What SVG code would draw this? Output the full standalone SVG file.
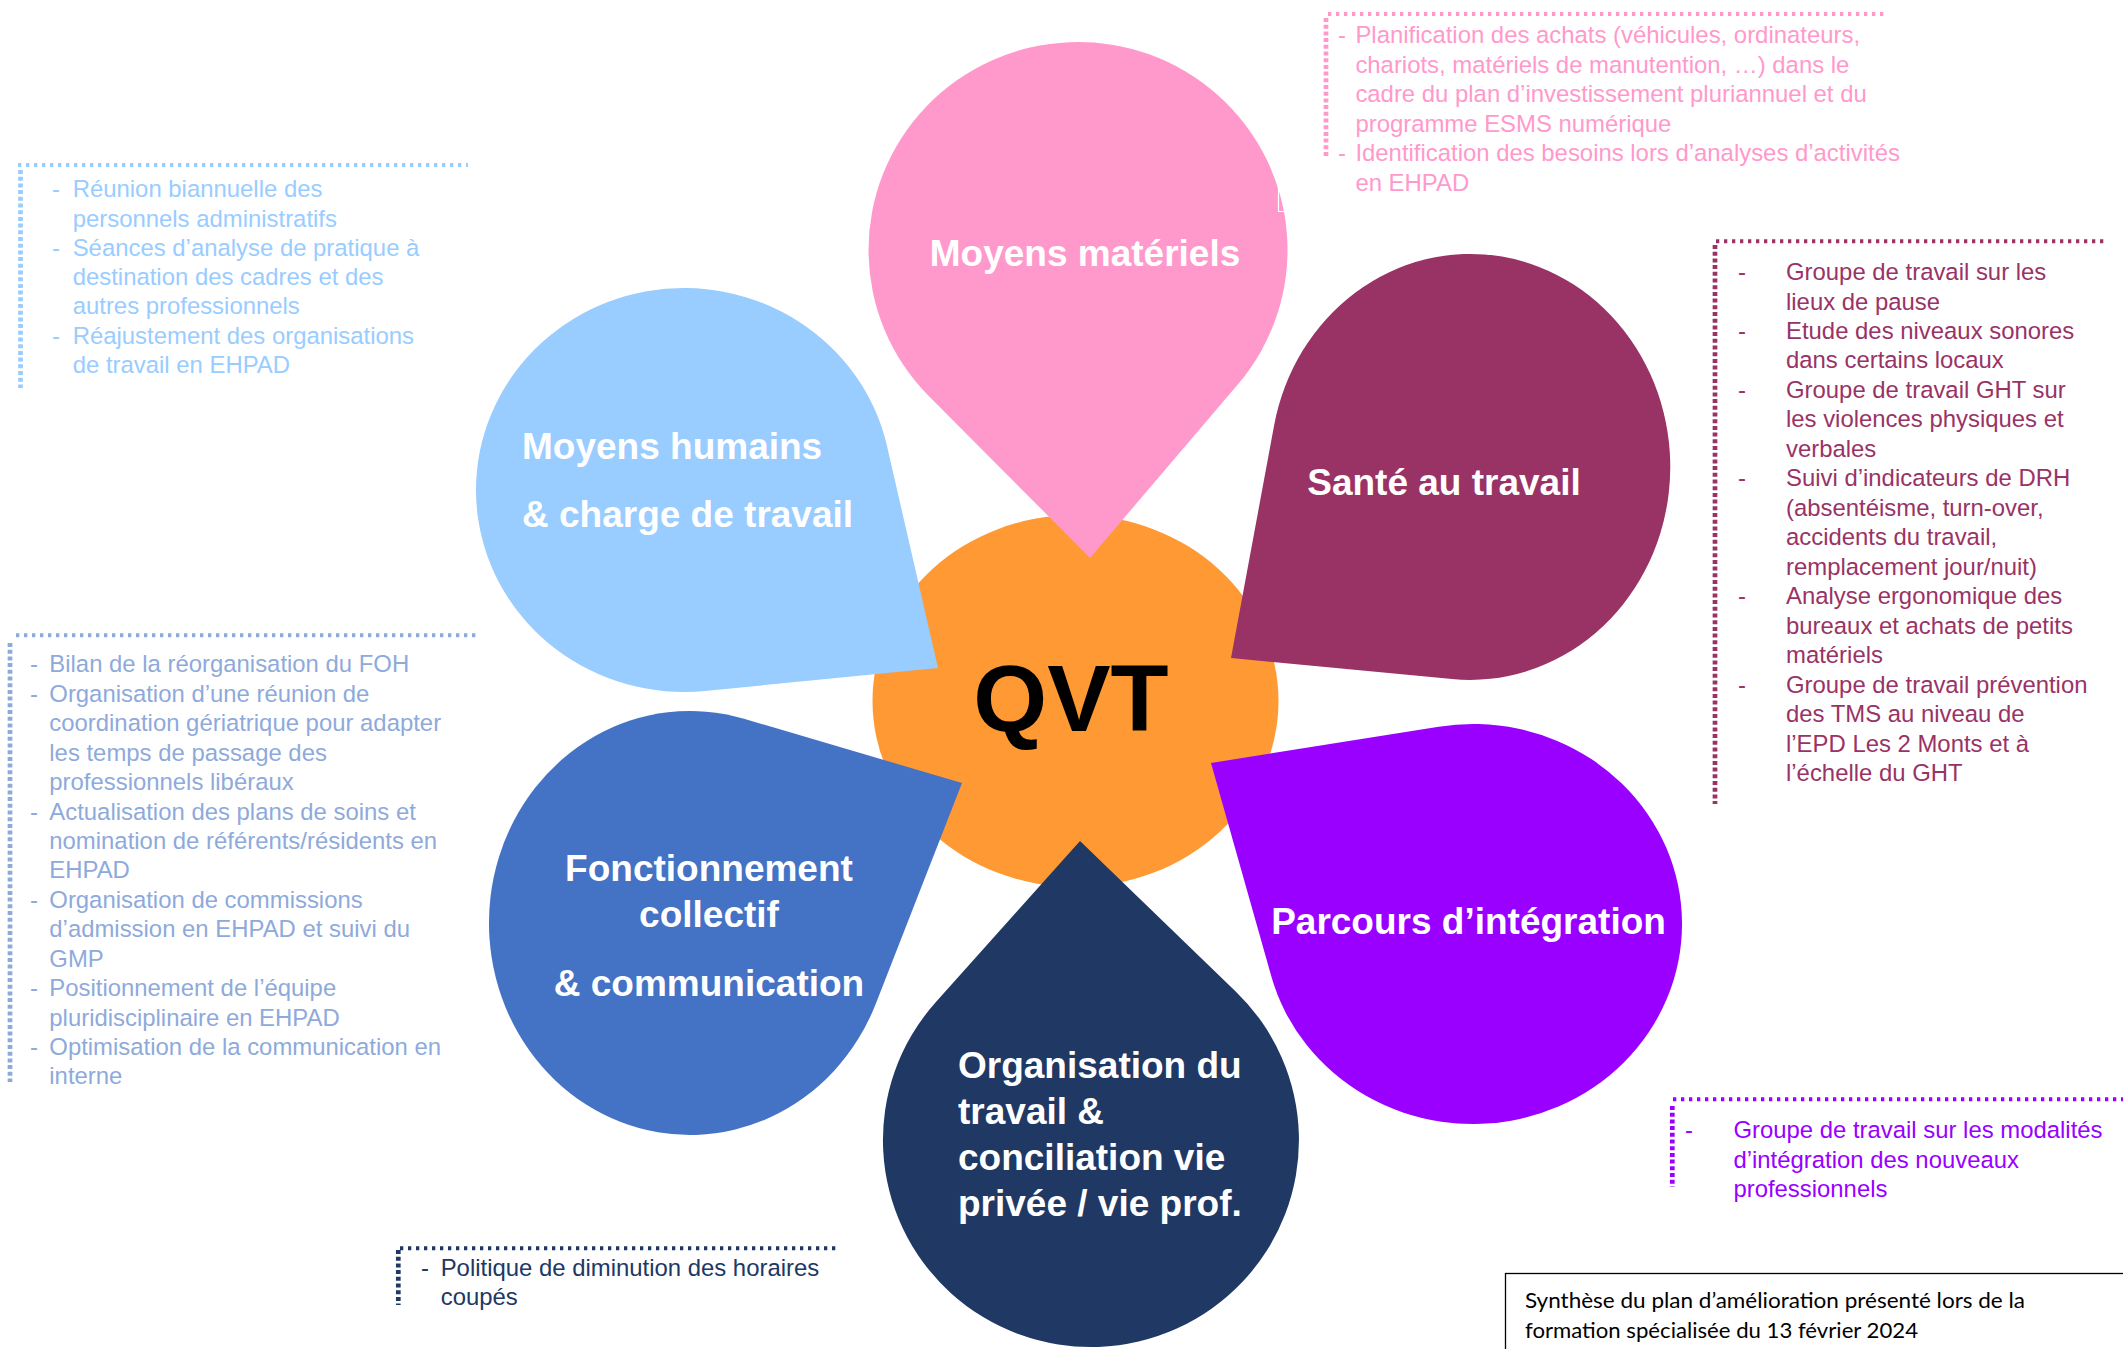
<svg xmlns="http://www.w3.org/2000/svg" width="2123" height="1349" viewBox="0 0 2123 1349">
<style>
.lbl{font-family:"Liberation Sans",Arial,sans-serif;font-weight:bold;font-size:37px;fill:#fff}
.note{font-family:"Liberation Sans",Arial,sans-serif;font-size:23.9px}
.dh{fill:none;stroke-width:4;stroke-dasharray:3.3 4.7}
.dv{fill:none;stroke-width:4.7;stroke-dasharray:4 2.7}
</style>
<rect width="2123" height="1349" fill="#fff"/>

<g id="qvt-center">
<ellipse cx="1075.5" cy="701" rx="203" ry="186" fill="#FF9933"/>
<text x="1071" y="731" text-anchor="middle" style="font-family:'Liberation Sans',Arial,sans-serif;font-weight:bold;font-size:95px" fill="#000">QVT</text>
</g>

<g id="petal-moyens-materiels">
<path d="M1238 384.3 L1090 558 L929 396.2 A209.5 208 0 1 1 1238 384.3 Z" fill="#FF99CC"/>
<path d="M1278.5 186 V211.5 H1290" fill="none" stroke="#fff" stroke-width="1.2"/>
<text class="lbl" x="1085" y="266" text-anchor="middle">Moyens matériels</text>
</g>

<g id="petal-moyens-humains">
<path d="M887 446 L938 668 L705 691 A208 202 0 1 1 887 446 Z" fill="#99CCFF"/>
<text class="lbl"><tspan x="522" y="459">Moyens humains</tspan><tspan x="522" y="527">&amp; charge de travail</tspan></text>
</g>

<g id="petal-sante">
<path d="M1452 679 L1231 658 L1274 426 A200 213 0 1 1 1452 679 Z" fill="#993366"/>
<text class="lbl" x="1444" y="495" text-anchor="middle">Santé au travail</text>
</g>

<g id="petal-parcours">
<path d="M1271.3 976.3 L1211 763 L1438.7 726.7 A209 200 0 1 1 1271.3 976.3 Z" fill="#9900FF"/>
<text class="lbl" x="1468.5" y="934" text-anchor="middle">Parcours d’intégration</text>
</g>

<g id="petal-organisation">
<path d="M935.7 1002.3 L1080 841 L1235.7 991.4 A208 207 0 1 1 935.7 1002.3 Z" fill="#203864"/>
<text class="lbl"><tspan x="958" y="1077.7">Organisation du</tspan><tspan x="958" y="1123.7">travail &amp;</tspan><tspan x="958" y="1169.7">conciliation vie</tspan><tspan x="958" y="1215.7">privée / vie prof.</tspan></text>
</g>

<g id="petal-fonctionnement">
<path d="M744 718.8 L962 783 L875.8 1003.8 A201 212 0 1 1 744 718.8 Z" fill="#4472C4"/>
<text class="lbl" text-anchor="middle"><tspan x="709" y="881">Fonctionnement</tspan><tspan x="709" y="926.5">collectif</tspan><tspan x="709" y="995.5">&amp; communication</tspan></text>
</g>

<g id="note-moyens-materiels" fill="#FF99CC" stroke="#FF99CC">
<path class="dh" d="M1328 14 H1885"/>
<path class="dv" d="M1326 18 V156"/>
<text class="note" stroke="none">
<tspan x="1338" y="43.3">-</tspan><tspan x="1355.4" y="43.3">Planification des achats (véhicules, ordinateurs,</tspan>
<tspan x="1355.4" y="72.8">chariots, matériels de manutention, …) dans le</tspan>
<tspan x="1355.4" y="102.3">cadre du plan d’investissement pluriannuel et du</tspan>
<tspan x="1355.4" y="131.7">programme ESMS numérique</tspan>
<tspan x="1338" y="161.2">-</tspan><tspan x="1355.4" y="161.2">Identification des besoins lors d’analyses d’activités</tspan>
<tspan x="1355.4" y="190.7">en EHPAD</tspan>
</text>
</g>

<g id="note-moyens-humains" fill="#99CCFF" stroke="#99CCFF">
<path class="dh" d="M18 165 H468"/>
<path class="dv" d="M20.5 170 V388"/>
<text class="note" stroke="none">
<tspan x="52" y="197.3">-</tspan><tspan x="72.7" y="197.3">Réunion biannuelle des</tspan>
<tspan x="72.7" y="226.5">personnels administratifs</tspan>
<tspan x="52" y="255.8">-</tspan><tspan x="72.7" y="255.8">Séances d’analyse de pratique à</tspan>
<tspan x="72.7" y="285">destination des cadres et des</tspan>
<tspan x="72.7" y="314.2">autres professionnels</tspan>
<tspan x="52" y="343.5">-</tspan><tspan x="72.7" y="343.5">Réajustement des organisations</tspan>
<tspan x="72.7" y="372.7">de travail en EHPAD</tspan>
</text>
</g>

<g id="note-fonctionnement" fill="#8EAADB" stroke="#8EAADB">
<path class="dh" d="M16 635.3 H479"/>
<path class="dv" d="M10 643 V1082"/>
<text class="note" stroke="none">
<tspan x="30" y="672.3">-</tspan><tspan x="49.3" y="672.3">Bilan de la réorganisation du FOH</tspan>
<tspan x="30" y="701.7">-</tspan><tspan x="49.3" y="701.7">Organisation d’une réunion de</tspan>
<tspan x="49.3" y="731.2">coordination gériatrique pour adapter</tspan>
<tspan x="49.3" y="760.6">les temps de passage des</tspan>
<tspan x="49.3" y="790">professionnels libéraux</tspan>
<tspan x="30" y="819.5">-</tspan><tspan x="49.3" y="819.5">Actualisation des plans de soins et</tspan>
<tspan x="49.3" y="848.9">nomination de référents/résidents en</tspan>
<tspan x="49.3" y="878.3">EHPAD</tspan>
<tspan x="30" y="907.7">-</tspan><tspan x="49.3" y="907.7">Organisation de commissions</tspan>
<tspan x="49.3" y="937.2">d’admission en EHPAD et suivi du</tspan>
<tspan x="49.3" y="966.6">GMP</tspan>
<tspan x="30" y="996">-</tspan><tspan x="49.3" y="996">Positionnement de l’équipe</tspan>
<tspan x="49.3" y="1025.5">pluridisciplinaire en EHPAD</tspan>
<tspan x="30" y="1054.9">-</tspan><tspan x="49.3" y="1054.9">Optimisation de la communication en</tspan>
<tspan x="49.3" y="1084.3">interne</tspan>
</text>
</g>

<g id="note-sante" fill="#993366" stroke="#993366">
<path class="dh" d="M1716 241.3 H2106"/>
<path class="dv" d="M1715 245 V804"/>
<text class="note" stroke="none">
<tspan x="1738" y="280">-</tspan><tspan x="1786" y="280">Groupe de travail sur les</tspan>
<tspan x="1786" y="309.5">lieux de pause</tspan>
<tspan x="1738" y="338.9">-</tspan><tspan x="1786" y="338.9">Etude des niveaux sonores</tspan>
<tspan x="1786" y="368.4">dans certains locaux</tspan>
<tspan x="1738" y="397.9">-</tspan><tspan x="1786" y="397.9">Groupe de travail GHT sur</tspan>
<tspan x="1786" y="427.4">les violences physiques et</tspan>
<tspan x="1786" y="456.8">verbales</tspan>
<tspan x="1738" y="486.3">-</tspan><tspan x="1786" y="486.3">Suivi d’indicateurs de DRH</tspan>
<tspan x="1786" y="515.8">(absentéisme, turn-over,</tspan>
<tspan x="1786" y="545.2">accidents du travail,</tspan>
<tspan x="1786" y="574.7">remplacement jour/nuit)</tspan>
<tspan x="1738" y="604.2">-</tspan><tspan x="1786" y="604.2">Analyse ergonomique des</tspan>
<tspan x="1786" y="633.6">bureaux et achats de petits</tspan>
<tspan x="1786" y="663.1">matériels</tspan>
<tspan x="1738" y="692.6">-</tspan><tspan x="1786" y="692.6">Groupe de travail prévention</tspan>
<tspan x="1786" y="722.1">des TMS au niveau de</tspan>
<tspan x="1786" y="751.5">l’EPD Les 2 Monts et à</tspan>
<tspan x="1786" y="781">l’échelle du GHT</tspan>
</text>
</g>

<g id="note-parcours" fill="#9900FF" stroke="#9900FF">
<path class="dh" d="M1673 1099.3 H2123"/>
<path class="dv" d="M1672.3 1106 V1187"/>
<text class="note" stroke="none">
<tspan x="1685" y="1138.3">-</tspan><tspan x="1733.4" y="1138.3">Groupe de travail sur les modalités</tspan>
<tspan x="1733.4" y="1167.8">d’intégration des nouveaux</tspan>
<tspan x="1733.4" y="1197.3">professionnels</tspan>
</text>
</g>

<g id="note-organisation" fill="#203864" stroke="#203864">
<path class="dh" d="M400 1248.3 H837"/>
<path class="dv" d="M398.3 1250 V1305"/>
<text class="note" stroke="none">
<tspan x="421" y="1276">-</tspan><tspan x="440.7" y="1276">Politique de diminution des horaires</tspan>
<tspan x="440.7" y="1305">coupés</tspan>
</text>
</g>

<g id="footer">
<rect x="1505.5" y="1273.5" width="700" height="200" fill="#fff" stroke="#000" stroke-width="1.3"/>
<text style="font-family:Lato,'Open Sans',sans-serif;font-size:21.5px" fill="#000">
<tspan x="1525" y="1308.3" textLength="500" lengthAdjust="spacingAndGlyphs">Synthèse du plan d’amélioration présenté lors de la</tspan>
<tspan x="1525" y="1338.3" textLength="393" lengthAdjust="spacingAndGlyphs">formation spécialisée du 13 février 2024</tspan>
</text>
</g>

<g id="connectors"/>
</svg>
